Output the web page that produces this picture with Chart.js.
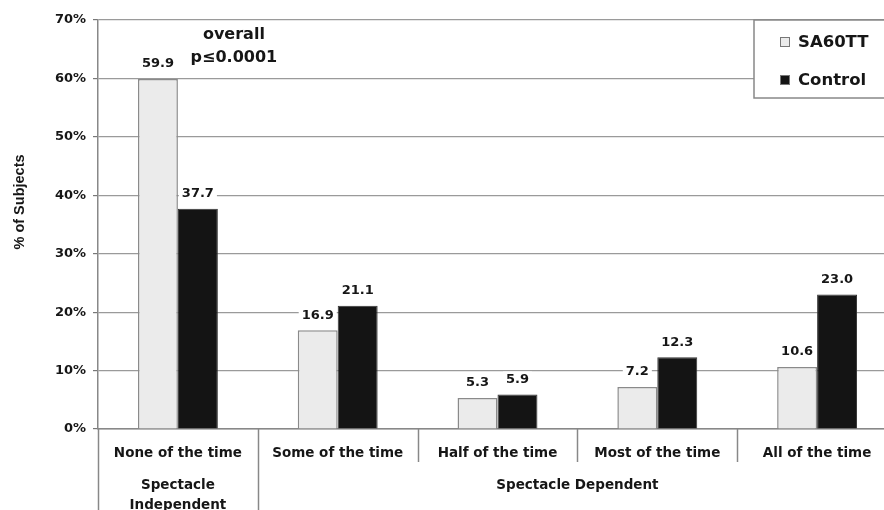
<!DOCTYPE html>
<html>
<head>
<meta charset="utf-8">
<script src="https://cdn.jsdelivr.net/npm/chart.js@4.4.1/dist/chart.umd.min.js"></script>
<style>
  html, body { margin: 0; padding: 0; background: #fff; overflow: hidden; }
  #wrap { position: absolute; left: 0; top: 0; width: 900px; height: 510px; }
</style>
</head>
<body>
<div id="wrap"><canvas id="chart"></canvas></div>
<script>
const categories = ['None of the time', 'Some of the time', 'Half of the time', 'Most of the time', 'All of the time'];
const sa60ttValues = [59.9, 16.9, 5.3, 7.2, 10.6];
const controlValues = [37.7, 21.1, 5.9, 12.3, 23.0];
const seriesNames = ['SA60TT', 'Control'];
const yMax = 70;
const yStep = 10;
const groupLabels = [['Spectacle', 'Independent'], ['Spectacle Dependent']];
const groupSpans = [[0, 0], [1, 4]];
const noteLines = ['overall', 'p\u22640.0001'];

const FONT = 'DejaVu Sans';
const TXT = '#161616';

// value labels, axis dividers, group labels, boxed legend and p-value note
const decor = {
    id: 'decor',
    afterDatasetsDraw(chart) {
        const ctx = chart.ctx;
        ctx.save();
        ctx.font = 'bold 13px ' + FONT;
        ctx.textAlign = 'center';
        ctx.textBaseline = 'middle';
        chart.data.datasets.forEach((ds, di) => {
            chart.getDatasetMeta(di).data.forEach((bar, i) => {
                const txt = ds.data[i].toFixed(1);
                const w = ctx.measureText(txt).width;
                const y = bar.y - 15;
                ctx.fillStyle = '#fff';
                ctx.fillRect(bar.x - w / 2 - 3, y - 8, w + 6, 16);
                ctx.fillStyle = TXT;
                ctx.fillText(txt, bar.x, y);
            });
        });
        ctx.restore();
    },
    afterDraw(chart) {
        const ctx = chart.ctx;
        const area = chart.chartArea;
        const yS = chart.scales.y;
        const n = categories.length;
        const cw = (area.right - area.left) / n;
        ctx.save();

        // category dividers below the axis
        const longAt = new Set();
        groupSpans.forEach(g => { longAt.add(g[0]); longAt.add(g[1] + 1); });
        ctx.strokeStyle = '#888';
        ctx.lineWidth = 1.5;
        for (let i = 0; i <= n; i++) {
            const bx = Math.round(area.left + i * cw) + 0.5;
            ctx.beginPath();
            ctx.moveTo(bx, area.bottom);
            ctx.lineTo(bx, longAt.has(i) ? chart.height : area.bottom + 33);
            ctx.stroke();
        }

        // group labels
        ctx.fillStyle = TXT;
        ctx.font = 'bold 13.5px ' + FONT;
        ctx.textAlign = 'center';
        ctx.textBaseline = 'middle';
        groupSpans.forEach((g, gi) => {
            const cx = area.left + (g[0] + g[1] + 1) / 2 * cw;
            groupLabels[gi].forEach((line, li) => {
                ctx.fillText(line, cx, area.bottom + 56 + li * 20);
            });
        });

        // y axis title
        ctx.save();
        ctx.translate(20, 202);
        ctx.rotate(-Math.PI / 2);
        ctx.font = 'bold 14.5px "Liberation Sans"';
        ctx.fillText('% of Subjects', 0, 0);
        ctx.restore();

        // p-value note
        ctx.font = 'bold 16px ' + FONT;
        const nx = chart.scales.x.getPixelForValue(0) + 56;
        ctx.fillText(noteLines[0], nx, yS.getPixelForValue(67.5));
        ctx.fillText(noteLines[1], nx, yS.getPixelForValue(63.6));

        // boxed legend
        const lx = area.right - 143, ly = area.top;
        ctx.fillStyle = '#fff';
        ctx.fillRect(lx, ly, 170, 78);
        ctx.strokeStyle = '#888';
        ctx.lineWidth = 1.5;
        ctx.strokeRect(lx, ly, 170, 78);
        ctx.font = 'bold 16.5px ' + FONT;
        ctx.textAlign = 'left';
        chart.data.datasets.forEach((ds, di) => {
            const cy = ly + 22 + di * 38;
            ctx.fillStyle = ds.backgroundColor;
            ctx.fillRect(lx + 26, cy - 5, 10, 10);
            ctx.strokeStyle = '#777';
            ctx.lineWidth = 1;
            ctx.strokeRect(lx + 26.5, cy - 4.5, 9, 9);
            ctx.fillStyle = TXT;
            ctx.fillText(ds.label, lx + 44, cy + 1);
        });
        ctx.restore();
    }
};

const ctx = document.getElementById('chart').getContext('2d');
const chart = new Chart(ctx, {
    type: 'bar',
    data: {
        labels: categories,
        datasets: [
            {
                label: seriesNames[0],
                data: sa60ttValues,
                backgroundColor: '#ebebeb',
                borderColor: '#8a8a8a',
                borderWidth: 1.5,
                categoryPercentage: 0.5,
                barPercentage: 1.0,
            },
            {
                label: seriesNames[1],
                data: controlValues,
                backgroundColor: '#141414',
                borderColor: '#333',
                borderWidth: 1,
                categoryPercentage: 0.5,
                barPercentage: 1.0,
            }
        ]
    },
    options: {
        responsive: true,
        maintainAspectRatio: false,
        animation: false,
        layout: { padding: { top: 20, right: 3, left: 0, bottom: 0 } },
        scales: {
            x: {
                grid: { display: false },
                border: { display: true, color: '#888', width: 1.5 },
                ticks: {
                    color: TXT,
                    padding: 8,
                    maxRotation: 0,
                    autoSkip: false,
                    font: { family: FONT, size: 13.5, weight: 'bold' },
                },
                afterFit: function (scale) { scale.height = 81; },
            },
            y: {
                min: 0,
                max: yMax,
                ticks: {
                    stepSize: yStep,
                    color: TXT,
                    padding: 7,
                    font: { family: FONT, size: 13, weight: 'bold' },
                    callback: function (value) { return value + '%'; },
                },
                grid: { color: '#9a9a9a', tickColor: '#777', tickLength: 5, lineWidth: 1.2 },
                border: { color: '#888', width: 1.5 },
                afterFit: function (scale) { scale.width = 98; },
            }
        },
        plugins: {
            legend: { display: false },
            tooltip: { enabled: false },
        }
    },
    plugins: [decor]
});
</script>
</body>
</html>
